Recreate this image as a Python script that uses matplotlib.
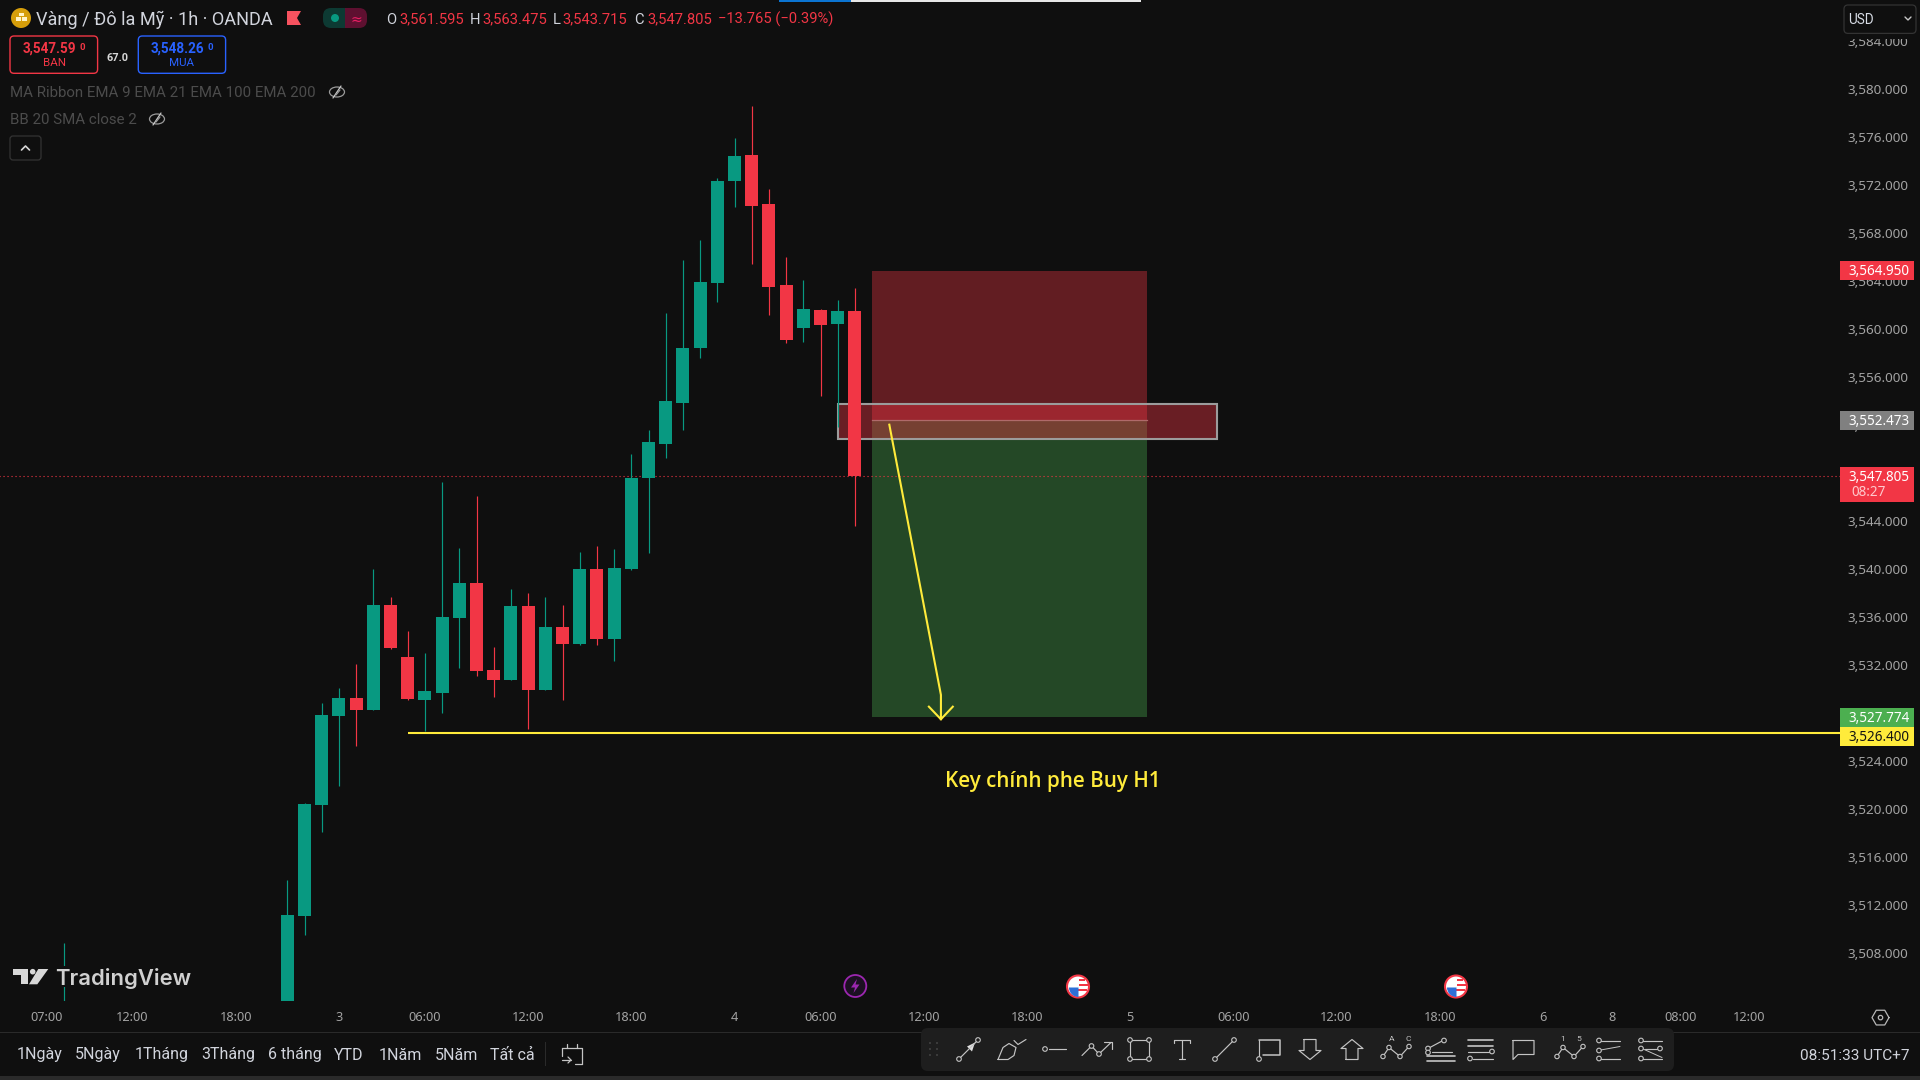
import numpy as np
import matplotlib
matplotlib.use("Agg")
import matplotlib.pyplot as plt
from matplotlib.patches import Circle, Ellipse, FancyBboxPatch, Polygon, Rectangle, Wedge
from matplotlib.transforms import Affine2D

# candles, 1h, first one is the partly hidden one at the bottom of the pane
opens = [3503.58, 3511.18, 3520.43, 3527.84, 3529.34, 3528.34, 3537.09, 3532.76, 3529.18,
         3529.76, 3536.01, 3538.93, 3531.68, 3530.84, 3537.01, 3530.01, 3535.26, 3533.84,
         3540.09, 3534.26, 3540.09, 3547.68, 3550.51, 3553.93, 3558.51, 3563.93, 3572.43,
         3574.59, 3570.51, 3563.76, 3560.18, 3561.68, 3560.51, 3561.595]
highs = [3514.18, 3520.59, 3528.93, 3530.18, 3532.18, 3540.09, 3537.76, 3534.93, 3533.09,
         3547.34, 3541.84, 3546.18, 3533.59, 3538.43, 3538.09, 3537.76, 3537.09, 3541.51,
         3542.01, 3541.76, 3549.68, 3551.68, 3561.43, 3565.84, 3567.51, 3572.68, 3576.01,
         3578.68, 3571.76, 3566.09, 3564.18, 3561.76, 3562.51, 3563.475]
lows = [3503.08, 3509.59, 3518.18, 3522.01, 3525.34, 3528.34, 3533.43, 3529.18, 3526.59,
        3528.09, 3531.84, 3531.18, 3529.43, 3530.84, 3526.76, 3530.01, 3529.18, 3533.76,
        3533.76, 3532.43, 3540.01, 3541.43, 3549.34, 3551.68, 3557.68, 3562.34, 3570.26,
        3565.51, 3561.26, 3558.93, 3559.01, 3554.51, 3551.93, 3543.715]
closes = [3511.26, 3520.51, 3527.93, 3529.34, 3528.34, 3537.09, 3533.51, 3529.26, 3529.93,
          3536.09, 3538.93, 3531.59, 3530.84, 3537.01, 3530.01, 3535.26, 3533.84, 3540.09,
          3534.26, 3540.18, 3547.68, 3550.68, 3554.09, 3558.51, 3564.01, 3572.43, 3574.51,
          3570.34, 3563.59, 3559.18, 3561.76, 3560.43, 3561.59, 3547.805]
# lone wick far left
old_wick = [-13, 3508.9]

price_ticks = list(range(3508, 3585, 4))
time_pos = [-14, -9, -3, 3, 8, 14, 20, 26, 31, 37, 43, 49, 55, 61, 67, 73, 77, 81, 85]
time_labels = ["07:00", "12:00", "18:00", "3", "06:00", "12:00", "18:00", "4", "06:00", "12:00",
               "18:00", "5", "06:00", "12:00", "18:00", "6", "8", "08:00", "12:00"]

last_price = 3547.805
stop_price = 3564.950
entry_price = 3552.473
target_price = 3527.774
key_price = 3526.400
pos_span = [34, 50]
zone_span = [32, 54.03]
zone_prices = [3550.95, 3553.82]
key_start = 7
arrow_x = [35, 38, 38]
arrow_y = [3552.12, 3529.60, 3527.57]
arrow_head_x = [37.3, 38, 38.69]
arrow_head_y = [3528.62, 3527.57, 3528.62]

ranges = ["1Ngày", "5Ngày", "1Tháng", "3Tháng", "6 tháng", "YTD", "1Năm", "5Năm", "Tất cả"]
range_x = [17, 75, 135, 201, 268, 334, 379, 434.6, 490]

BG = "#0f0f0f"
GREEN = "#089981"
RED = "#f23645"
YELLOW = "#ffeb3b"
TICK = "#a3a3a3"
ICON = "#c4c4c4"
BAR = "#1e1e1e"
UI_FONT = "Roboto"
AX_FONT = "Noto Sans"

fig = plt.figure(figsize=(19.2, 10.8), dpi=100, facecolor=BG)
ax = fig.add_axes([0, 79 / 1080, 1840 / 1920, 1001 / 1080], facecolor=BG)
ax.set_xlim(-16.703, 90.27)
ax.set_ylim(3504.093, 3587.51)
for s in ax.spines.values():
    s.set_visible(False)

# risk / reward box
ax.add_patch(Rectangle((pos_span[0], entry_price), pos_span[1] - pos_span[0], stop_price - entry_price,
                       fc=RED, alpha=0.37, lw=0, zorder=1))
ax.add_patch(Rectangle((pos_span[0], target_price), pos_span[1] - pos_span[0], entry_price - target_price,
                       fc="#4caf50", alpha=0.36, lw=0, zorder=1))
ax.plot(pos_span, [entry_price, entry_price], color="#b06a6a", lw=0.9, zorder=3.5)

ax.plot([-17, 91], [last_price, last_price], color=RED, lw=0.8, ls=(0, (1, 2.6)), zorder=2.5)

# selected zone
ax.add_patch(Rectangle((zone_span[0], zone_prices[0]), zone_span[1] - zone_span[0], zone_prices[1] - zone_prices[0],
                       fc=RED, alpha=0.4, lw=0, zorder=3))
ax.add_patch(Rectangle((zone_span[0], zone_prices[0]), zone_span[1] - zone_span[0], zone_prices[1] - zone_prices[0],
                       fc="none", ec="#9c9c9c", lw=1.5, zorder=3.2))

# candles
x = np.arange(len(opens))
o = np.array(opens)
c = np.array(closes)
col = [GREEN if c[i] >= o[i] else RED for i in x]
ax.vlines(x, lows, highs, colors=col, lw=0.85, zorder=4)
ax.bar(x, np.abs(c - o), bottom=np.minimum(o, c), width=0.76, color=col, lw=0, zorder=4)
ax.vlines(old_wick[0], 3500, old_wick[1], colors=GREEN, lw=0.85, zorder=4)

# drawings
ax.plot([key_start, 91], [key_price, key_price], color=YELLOW, lw=1.5, zorder=5, solid_capstyle="butt")
ax.plot(arrow_x, arrow_y, color=YELLOW, lw=1.5, zorder=5)
ax.plot(arrow_head_x, arrow_head_y, color=YELLOW, lw=1.5, zorder=5)
ax.text(38.25, 3522.40, "Key chính phe Buy H1", color=YELLOW, fontsize=14.9, family="Open Sans",
        weight=600, ha="left", va="center", zorder=5)

# axes ticks
ax.yaxis.tick_right()
ax.set_yticks(price_ticks)
ax.set_yticklabels([f"{p:,.3f}" for p in price_ticks], family=AX_FONT, fontsize=9.7, color=TICK, ha="right")
ax.tick_params(axis="y", length=0, pad=49.4)
for lab in ax.get_yticklabels():
    lab.set_transform(lab.get_transform() + Affine2D().translate(0, 1))
ax.set_xticks(time_pos)
ax.set_xticklabels(time_labels, family=AX_FONT, fontsize=9.2, color=TICK)
ax.tick_params(axis="x", length=0, pad=7)

# everything around the chart is drawn in pixel coords on top
ov = fig.add_axes([0, 0, 1, 1], facecolor="none")
ov.set_xlim(0, 1920)
ov.set_ylim(1080, 0)
ov.axis("off")


def px_y(price):
    return 1080 - ax.transData.transform((0, price))[1]


def txt(x, y, s, color="#d1d4dc", size=13, ha="left", weight="normal", font=UI_FONT):
    return ov.text(x, y, s, color=color, fontsize=size * 0.72, ha=ha, va="center_baseline",
                   weight=weight, family=font)


def ln(xs, ys, color=ICON, lw=0.85):
    ov.plot(xs, ys, color=color, lw=lw, solid_capstyle="round")


def dot(x, y, r=2.3, color=ICON):
    ov.add_patch(Circle((x, y), r, fc=BAR, ec=color, lw=0.8, zorder=6))


def rbox(x0, y0, x1, y1, fc="none", ec="none", r=4, lw=1.0):
    ov.add_patch(FancyBboxPatch((x0 + r, y0 + r), x1 - x0 - 2 * r, y1 - y0 - 2 * r,
                                boxstyle=f"round,pad={r},rounding_size={r}", fc=fc, ec=ec, lw=lw))


def eye(x, y):
    ov.add_patch(Ellipse((x, y), 15, 10, fc="none", ec="#9a9a9a", lw=0.9))
    ln([x - 4, x + 4], [y + 6, y - 6], "#c8c8c8", 0.9)
    ln([x - 1, x + 3], [y + 3, y - 2], "#9a9a9a", 0.9)


def price_box(y0, y1, fc):
    ov.add_patch(Rectangle((1840, y0), 74, y1 - y0, fc=fc, lw=0))


# top strip
ov.add_patch(Rectangle((779, 0), 72, 2, fc="#0b74d1", lw=0))
ov.add_patch(Rectangle((851, 0), 290, 2, fc="#e6e6e6", lw=0))

# title row
ov.add_patch(Circle((21, 18), 10, fc="#d69e0a", lw=0))
ov.add_patch(Rectangle((18.5, 12.5), 5, 3.5, fc="#fff3c8", lw=0))
ov.add_patch(Rectangle((15.5, 17), 5, 3.5, fc="#fff3c8", lw=0))
ov.add_patch(Rectangle((21.5, 17), 5, 3.5, fc="#fff3c8", lw=0))
txt(35.5, 18, "Vàng / Đô la Mỹ · 1h · OANDA", size=18.2)
ov.add_patch(Polygon([(287, 11), (301, 11), (297, 18), (301, 25), (287, 25)], fc="#f7525f", lw=0))
rbox(323, 8, 345, 28, fc="#0d3a33", r=8)
ov.add_patch(Rectangle((338, 8), 8, 20, fc="#0d3a33", lw=0))
rbox(345, 8, 367, 28, fc="#5e1030", r=8)
ov.add_patch(Rectangle((345, 8), 8, 20, fc="#5e1030", lw=0))
ov.add_patch(Circle((335, 18), 4, fc=GREEN, lw=0))
txt(356, 18, "≈", color="#e91e63", size=14, ha="center", font="DejaVu Sans")

for lx, vx, lab, val in [(386, 399, "O", "3,561.595"), (469.5, 482, "H", "3,563.475"),
                         (553, 562.5, "L", "3,543.715"), (634, 647, "C", "3,547.805")]:
    txt(lx, 18, lab, size=14.7)
    txt(vx, 18, val, color=RED, size=14.7)
txt(718, 18, "−13.765 (−0.39%)", color=RED, size=14.8)

# sell / buy buttons
rbox(10, 36, 97.6, 73.3, ec=RED, r=4, lw=1.0)
rbox(138.3, 36, 225.6, 73.3, ec="#2962ff", r=4, lw=1.0)
txt(22.5, 47, "3,547.59", color=RED, size=13.5, weight="bold")
txt(79.5, 46, "0", color=RED, size=9.5, weight="bold")
txt(54, 61.5, "BAN", color=RED, size=11.5, ha="center")
txt(117.7, 56.7, "67.0", color="#d8d8d8", size=11, ha="center", weight="bold")
txt(150.5, 47, "3,548.26", color="#2962ff", size=13.5, weight="bold")
txt(207.5, 46, "0", color="#2962ff", size=9.5, weight="bold")
txt(182, 61.5, "MUA", color="#2962ff", size=11.5, ha="center")

# indicators
txt(10, 91.5, "MA Ribbon EMA 9 EMA 21 EMA 100 EMA 200", color="#4c4c4c", size=15.05)
eye(337, 92)
txt(10, 118.5, "BB 20 SMA close 2", color="#4c4c4c", size=15.05)
eye(157, 119)
rbox(10, 136, 41, 160, ec="#333333", r=3, lw=0.9)
ln([21.5, 25.5, 29.5], [150, 146, 150], "#d8d8d8", 1.2)

# currency selector, the scale is cut just under it
ov.add_patch(Rectangle((1840, 0), 80, 38.5, fc=BG, lw=0))
rbox(1844, 5, 1916, 33.4, fc=BG, ec="#333333", r=4, lw=0.9)
txt(1848.5, 18, "USD", size=13.5, color="#d8dde6")
ln([1905, 1908, 1911], [17, 20, 17], "#c8c8c8", 1.0)

# price labels on the scale
price_box(px_y(stop_price) - 9.6, px_y(stop_price) + 9.6, RED)
txt(1909.5, px_y(stop_price) - 1, "3,564.950", color="white", size=13.5, ha="right", font=AX_FONT)
price_box(px_y(entry_price) - 9.6, px_y(entry_price) + 9.6, "#808080")
txt(1909.5, px_y(entry_price) - 1, "3,552.473", color="white", size=13.5, ha="right", font=AX_FONT)
price_box(467, 501.7, RED)
txt(1909.5, 475.2, "3,547.805", color="white", size=13.5, ha="right", font=AX_FONT)
txt(1851, 490.7, "08:27", color="#ffc8cc", size=13.5, font=AX_FONT)
price_box(708, 727, "#4caf50")
txt(1909.5, 716.5, "3,527.774", color="white", size=13.5, ha="right", font=AX_FONT)
price_box(727, 745.6, YELLOW)
txt(1909.5, 735.5, "3,526.400", color="#131313", size=13.5, ha="right", font=AX_FONT)

# logo, it has its own dark background over the wick
ov.add_patch(Rectangle((10, 966), 184, 21, fc=BG, lw=0))
ov.add_patch(Polygon([(13.3, 969), (28.3, 969), (28.3, 984.3), (20.7, 984.3), (20.7, 975.3), (13.3, 975.3)],
                     fc="#d8d8d8", lw=0))
ov.add_patch(Circle((32.7, 971.7), 2.8, fc="#d8d8d8", lw=0))
ov.add_patch(Polygon([(38.3, 969), (48.3, 969), (37.3, 984.3), (29, 984.3)], fc="#d8d8d8", lw=0))
txt(55.5, 976.5, "TradingView", color="#d0d0d0", size=22, weight=600, font="Inter")

# events on the time scale
ov.add_patch(Circle((855.3, 986), 11, fc="#1c1022", ec="#9c27b0", lw=1.3))
ov.add_patch(Polygon([(857, 979), (851, 987.5), (855, 987.5), (853.5, 993), (859.5, 984.5), (855.5, 984.5)],
                     fc="#9c27b0", lw=0))
for fx in [1078, 1456]:
    ov.add_patch(Circle((fx, 986.5), 11, fc="white", ec=RED, lw=1.5))
    ov.add_patch(Rectangle((fx + 1, 978.5), 6, 2.5, fc=RED, lw=0))
    ov.add_patch(Rectangle((fx + 1, 983.5), 8.5, 2.5, fc=RED, lw=0))
    ov.add_patch(Rectangle((fx - 8.5, 988.5), 17, 2.5, fc=RED, lw=0))
    ov.add_patch(Wedge((fx + 0.5, 987.5), 9.5, 90, 180, fc="#2f6fd6", lw=0))

# settings hex
hx, hy = 1880.5, 1017.6
ang = np.radians(np.arange(0, 361, 60))
ln(hx + 8.5 * np.cos(ang), hy + 8.5 * np.sin(ang), "#b8b8b8", 0.9)
ov.add_patch(Circle((hx, hy), 2.2, fc="none", ec="#b8b8b8", lw=0.9))

# bottom bar
ov.add_patch(Rectangle((0, 1032), 1920, 1, fc="#2a2a2a", lw=0))
ov.add_patch(Rectangle((0, 1076), 1920, 4, fc="#2a2a2a", lw=0))
for lab, rx in zip(ranges, range_x):
    txt(rx, 1053.5, lab, size=16)
ov.add_patch(Rectangle((545, 1042), 1, 24, fc="#2a2a2a", lw=0))
ln([562, 582, 582], [1048, 1048, 1064], ICON, 0.9)
ln([562, 562], [1048, 1056], ICON, 0.9)
ln([567, 567], [1044, 1048], ICON, 0.9)
ln([577, 577], [1044, 1048], ICON, 0.9)
ln([562, 571], [1060, 1060], ICON, 0.9)
ln([568, 571, 568], [1057, 1060, 1063], ICON, 0.9)
ln([575, 582], [1064, 1064], ICON, 0.9)
txt(1909, 1054, "08:51:33 UTC+7", ha="right", size=15.4)

# drawing toolbar
rbox(921, 1028, 1674, 1071, fc=BAR, r=7)
for dx in [930, 937]:
    for dy in [1043, 1049, 1055]:
        ov.add_patch(Circle((dx, dy), 0.9, fc="#4a4a4a", lw=0))
cy = 1049.5

ln([959, 978], [cy + 9.5, cy - 9.5])
dot(959, cy + 9.5)
dot(978, cy - 9.5)
ov.add_patch(Polygon([(975, cy - 7), (967, cy - 3), (972, cy + 2)], fc="#e0e0e0", lw=0))

ln([998, 1003, 1009, 1016, 1014, 1008, 998], [cy + 10, cy - 2, cy - 6, cy - 2, cy + 6, cy + 10, cy + 10])
ln([1014, 1018, 1026], [cy - 9, cy - 5, cy - 10])

ln([1049, 1066], [cy - 0.5, cy - 0.5])
dot(1045, cy - 0.5)

ln([1082, 1091.5, 1099, 1111], [cy + 6, cy - 3.5, cy + 4.5, cy - 7])
ln([1104, 1111.5, 1111.5], [cy - 7.5, cy - 7.5, cy - 1])
dot(1091.5, cy - 3.5)
dot(1099, cy + 4.5)

ln([1130, 1149, 1149, 1130, 1130], [cy - 9.5, cy - 9.5, cy + 9.5, cy + 9.5, cy - 9.5])
for ix, iy in [(1130, cy - 9.5), (1149, cy - 9.5), (1149, cy + 9.5), (1130, cy + 9.5)]:
    dot(ix, iy)

ln([1174, 1190], [cy - 9.5, cy - 9.5])
ln([1174, 1174], [cy - 9.5, cy - 7])
ln([1190, 1190], [cy - 9.5, cy - 7])
ln([1182, 1182], [cy - 9.5, cy + 9.5])
ln([1179, 1185], [cy + 9.5, cy + 9.5])

ln([1215, 1234], [cy + 9.5, cy - 9.5])
dot(1215, cy + 9.5)
dot(1234, cy - 9.5)

ln([1259, 1280, 1280, 1263], [cy - 10, cy - 10, cy + 5, cy + 5], lw=1.1)
ln([1259, 1259], [cy - 10, cy + 7])
dot(1259, cy + 9.5)

ln([1304, 1316, 1316, 1321, 1310, 1299, 1304, 1304], [cy - 10, cy - 10, cy + 1, cy + 1, cy + 10, cy + 1, cy + 1, cy - 10])
ln([1346, 1358, 1358, 1363, 1352, 1341, 1346, 1346], [cy + 10, cy + 10, cy - 1, cy - 1, cy - 10, cy - 1, cy - 1, cy + 10])

ln([1383, 1389, 1400, 1409], [cy + 7, cy - 2, cy + 7, cy - 3])
for ix, iy in [(1383, cy + 7), (1389, cy - 2), (1400, cy + 7), (1409, cy - 3)]:
    dot(ix, iy, 2.2)
txt(1392, cy - 11, "A", size=8.5, ha="center", color=ICON)
txt(1408, cy - 11, "C", size=8.5, ha="center", color=ICON)

ln([1428, 1443], [cy - 1, cy - 9])
ln([1432, 1452], [cy + 2, cy + 2])
ln([1427, 1455], [cy + 6, cy + 6], lw=1.2)
ln([1427, 1455], [cy + 11, cy + 11], lw=1.2)
dot(1428, cy - 1)
dot(1444, cy - 9)
dot(1428, cy + 3)

ln([1468, 1493], [cy - 10, cy - 10], lw=1.2)
ln([1468, 1493], [cy - 4, cy - 4], lw=1.2)
ln([1468, 1490], [cy + 2, cy + 2])
ln([1473, 1493], [cy + 9, cy + 9])
dot(1492, cy + 2)
dot(1470, cy + 9)

ln([1513, 1534, 1534, 1518, 1513, 1513], [cy - 9, cy - 9, cy + 5, cy + 5, cy + 10, cy - 9])

ln([1557, 1563, 1574, 1583], [cy + 7, cy - 2, cy + 7, cy - 3])
for ix, iy in [(1557, cy + 7), (1563, cy - 2), (1574, cy + 7), (1583, cy - 3)]:
    dot(ix, iy, 2.2)
txt(1563, cy - 11, "1", size=8.5, ha="center", color=ICON)
txt(1579, cy - 11, "5", size=8.5, ha="center", color=ICON)

ln([1598, 1620], [cy - 9, cy - 9])
ln([1598, 1620], [cy + 9, cy + 9])
ln([1598, 1620], [cy + 1, cy - 3], lw=0.7)
dot(1599, cy - 9)
dot(1599, cy + 9)
dot(1599, cy + 1)

ln([1640, 1662], [cy - 9, cy - 9])
ln([1640, 1662], [cy + 9, cy + 9])
ln([1645, 1660], [cy - 1, cy - 1])
ln([1642, 1662], [cy - 1, cy + 8], lw=0.7)
dot(1660, cy - 1)
dot(1641, cy - 9)
dot(1641, cy + 9)
dot(1641, cy - 1)

fig.savefig("out.png", dpi=100, facecolor=BG)
